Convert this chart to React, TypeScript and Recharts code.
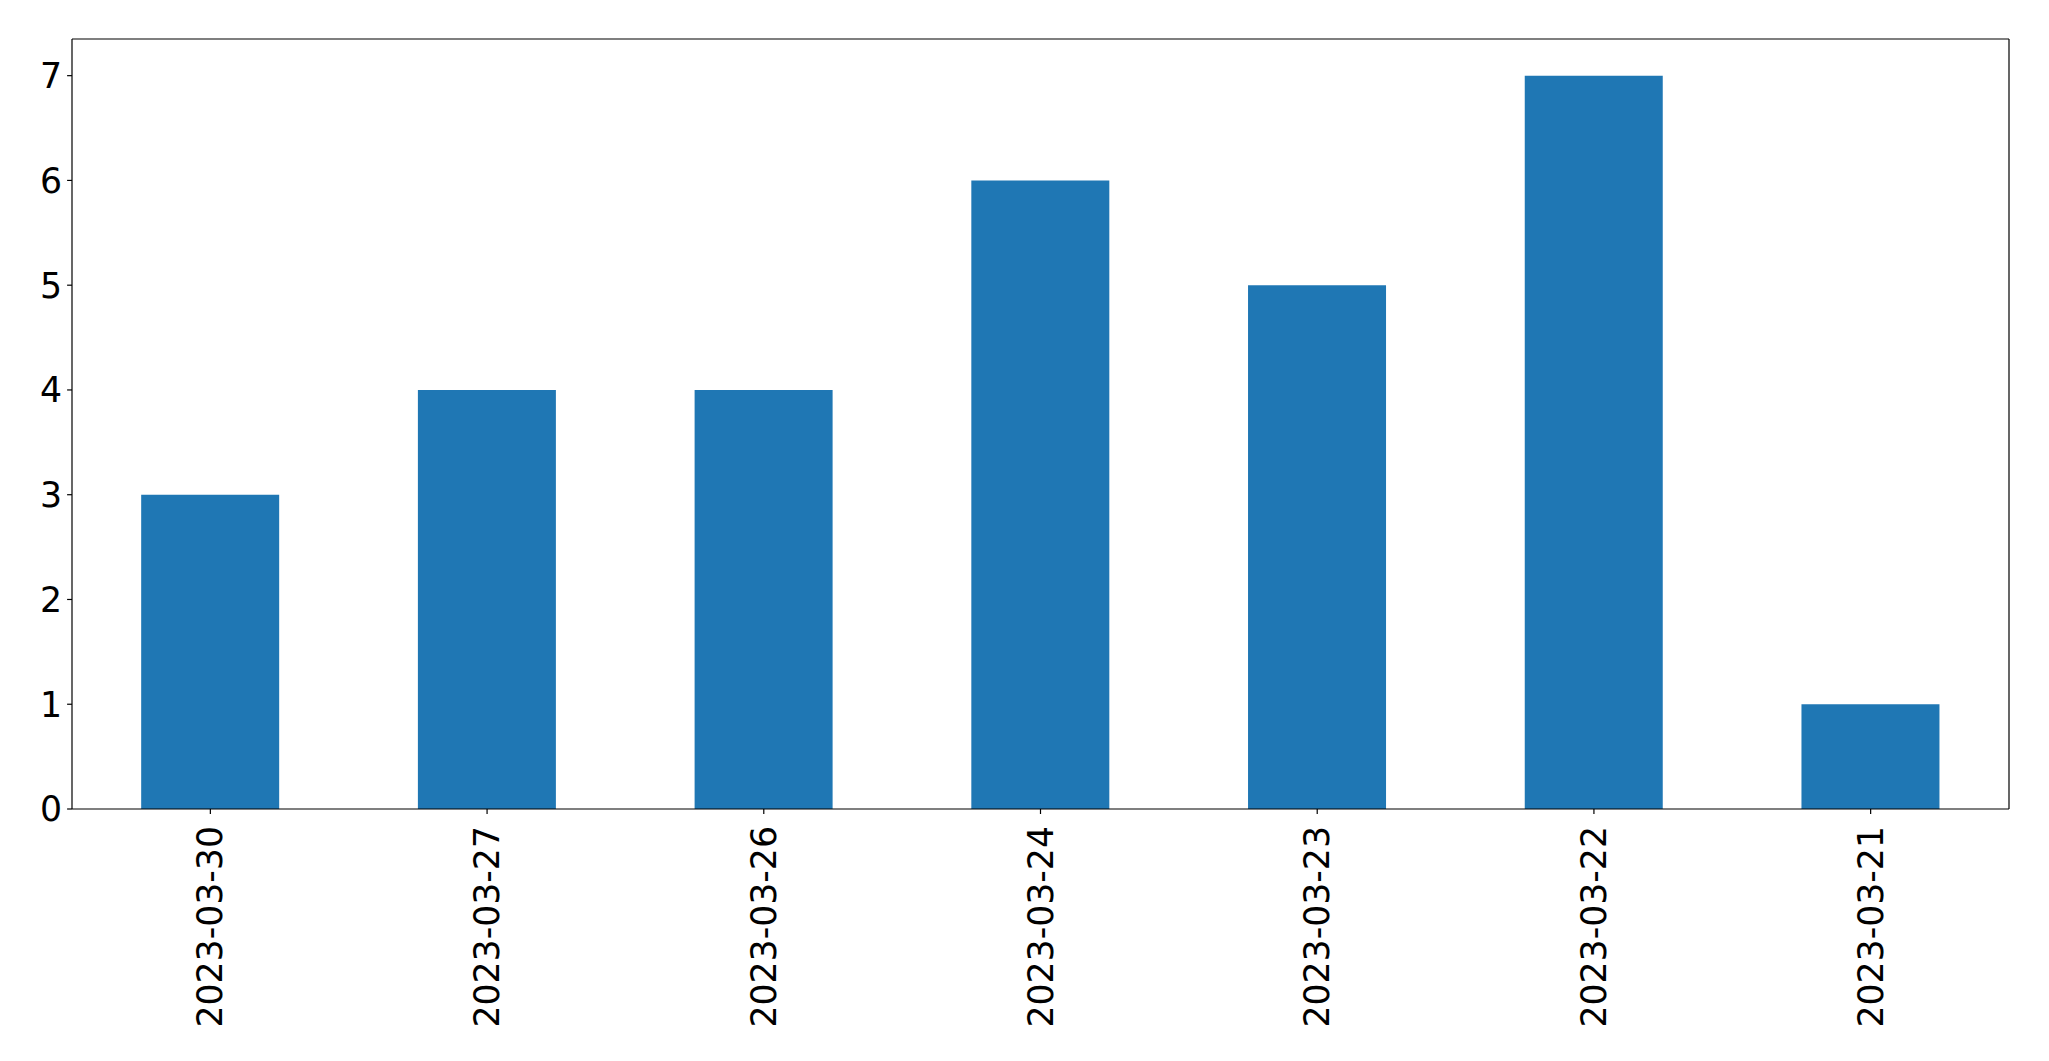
import React from "react";
import { BarChart, Bar, XAxis, YAxis } from "recharts";

// values
const dates = [
  "2023-03-30",
  "2023-03-27",
  "2023-03-26",
  "2023-03-24",
  "2023-03-23",
  "2023-03-22",
  "2023-03-21",
];
const counts = [3, 4, 4, 6, 5, 7, 1];
const yTicks = [0, 1, 2, 3, 4, 5, 6, 7];

const FONT = "DejaVu Sans";
const FS = 34.7;

const data = dates.map((d, i) => ({ date: d, count: counts[i] }));

// rotated date label (reads bottom to top)
const DateTick = (props: any) => {
  const { x, y, payload } = props;
  const ty = y + 12;
  return (
    <text
      x={x}
      y={ty}
      transform={`rotate(-90, ${x}, ${ty})`}
      textAnchor="end"
      dominantBaseline="central"
      fontFamily={FONT}
      fontSize={FS}
      fill="#000"
    >
      {payload.value}
    </text>
  );
};

const App = () => {
  return (
    <div style={{ position: "absolute", left: 0, top: 0, background: "#fff" }}>
      <BarChart
        width={2049}
        height={1061}
        data={data}
        margin={{ top: 38, right: 39, left: 0, bottom: 0 }}
        barCategoryGap="25%"
      >
        <XAxis
          dataKey="date"
          height={252}
          interval={0}
          tick={<DateTick />}
          tickSize={5}
          tickMargin={0}
          axisLine={{ stroke: "#000", strokeWidth: 1.2 }}
          tickLine={{ stroke: "#000", strokeWidth: 1.2 }}
        />
        {/* top spine */}
        <XAxis
          xAxisId="top"
          dataKey="date"
          orientation="top"
          height={1}
          tick={false}
          tickLine={false}
          axisLine={{ stroke: "#000", strokeWidth: 1.2 }}
        />
        <YAxis
          width={72}
          domain={[0, 7.35]}
          ticks={yTicks}
          allowDataOverflow
          tickSize={4.9}
          tickMargin={4.9}
          tick={{ fontFamily: FONT, fontSize: FS, fill: "#000" }}
          axisLine={{ stroke: "#000", strokeWidth: 1.2 }}
          tickLine={{ stroke: "#000", strokeWidth: 1.2 }}
        />
        {/* right spine */}
        <YAxis
          yAxisId="right"
          orientation="right"
          width={1}
          domain={[0, 7.35]}
          tick={false}
          tickLine={false}
          axisLine={{ stroke: "#000", strokeWidth: 1.2 }}
        />
        <Bar dataKey="count" fill="#1f77b4" isAnimationActive={false} />
      </BarChart>
    </div>
  );
};

export default App;
